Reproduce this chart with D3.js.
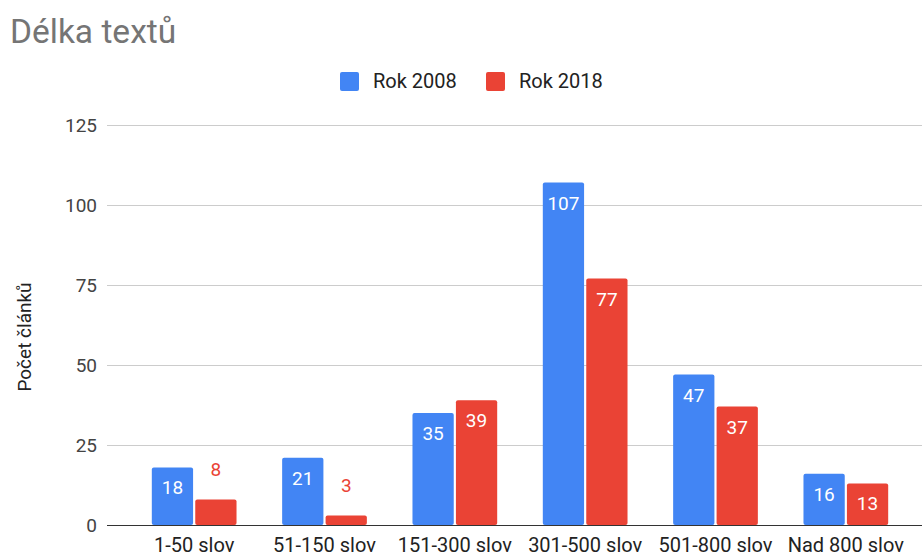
<!DOCTYPE html>
<html>
<head>
<meta charset="utf-8">
<script src="https://cdn.jsdelivr.net/npm/d3@7"></script>
<style>
  body { margin: 0; background: #fff; }
  svg { display: block; font-family: Roboto, Arial, sans-serif; }
</style>
</head>
<body>
<script>
// data
var categories = ['1-50 slov', '51-150 slov', '151-300 slov', '301-500 slov', '501-800 slov', 'Nad 800 slov'];
var series_names = ['Rok 2008', 'Rok 2018'];
var values_2008 = [18, 21, 35, 107, 47, 16];
var values_2018 = [8, 3, 39, 77, 37, 13];
var y_ticks = [0, 25, 50, 75, 100, 125];
var colors = ['#4285F4', '#EA4335'];

var width = 922, height = 556;
var svg = d3.select('body').append('svg').attr('width', width).attr('height', height);

var x_scale = d3.scaleBand().domain(categories).range([129, 911])
    .paddingInner(0.35).paddingOuter(0.175);
var x_inner = d3.scaleBand().domain(series_names).range([0, x_scale.bandwidth()]).paddingInner(0.05);
var y_scale = d3.scaleLinear().domain([0, 125]).range([525, 125]);

// title
svg.append('text').attr('x', 10).attr('y', 43).text('Délka textů')
    .style('font-size', '33.5px').style('fill', '#757575');

// legend
var legend_x = [340, 486];
series_names.forEach(function(name, i) {
    svg.append('rect').attr('x', legend_x[i]).attr('y', 72).attr('width', 19).attr('height', 19)
        .attr('rx', 2).attr('fill', colors[i]);
    svg.append('text').attr('x', legend_x[i] + 33).attr('y', 88).text(name)
        .style('font-size', '20px').style('fill', '#222');
});

// gridlines + y tick labels
var y_axis = svg.append('g');
y_axis.selectAll('line').data(y_ticks).enter().append('line')
    .attr('x1', 107).attr('x2', width)
    .attr('y1', d => y_scale(d) + 0.5).attr('y2', d => y_scale(d) + 0.5)
    .attr('stroke', d => d == 0 ? '#333' : '#ccc').attr('stroke-width', 1);
y_axis.selectAll('text').data(y_ticks).enter().append('text')
    .attr('x', 97).attr('y', d => y_scale(d) + 7).attr('text-anchor', 'end')
    .text(d => d).style('font-size', '19px').style('fill', '#444');

// y axis title
svg.append('text').attr('transform', 'rotate(-90)').attr('x', -337).attr('y', 31)
    .attr('text-anchor', 'middle').text('Počet článků')
    .style('font-size', '19px').style('fill', '#222');

// bars
var rows = categories.map(function(c, i) {
    return [{cat: c, key: series_names[0], value: values_2008[i], color: colors[0]},
            {cat: c, key: series_names[1], value: values_2018[i], color: colors[1]}];
});
var bars = svg.append('g').selectAll('g').data(rows).enter().append('g')
    .attr('transform', d => 'translate(' + x_scale(d[0].cat) + ',0)');
bars.selectAll('rect').data(d => d).enter().append('rect')
    .attr('x', d => x_inner(d.key)).attr('width', x_inner.bandwidth())
    .attr('y', d => y_scale(d.value)).attr('height', d => y_scale(0) - y_scale(d.value))
    .attr('rx', 2).attr('fill', d => d.color);

// value labels: inside if the bar is tall enough, else above in the series colour
bars.selectAll('text').data(d => d).enter().append('text')
    .attr('x', d => x_inner(d.key) + x_inner.bandwidth() / 2)
    .attr('y', function(d) {
        var h = y_scale(0) - y_scale(d.value);
        return h > 32 ? y_scale(d.value) + 27 : y_scale(d.value) - 23;
    })
    .attr('text-anchor', 'middle').text(d => d.value)
    .style('font-size', '19px')
    .style('fill', d => (y_scale(0) - y_scale(d.value)) > 32 ? '#fff' : d.color);

// category labels
svg.append('g').selectAll('text').data(categories).enter().append('text')
    .attr('x', d => x_scale(d) + x_scale.bandwidth() / 2).attr('y', 552)
    .attr('text-anchor', 'middle').text(d => d)
    .style('font-size', '20px').style('fill', '#222');
</script>
</body>
</html>
